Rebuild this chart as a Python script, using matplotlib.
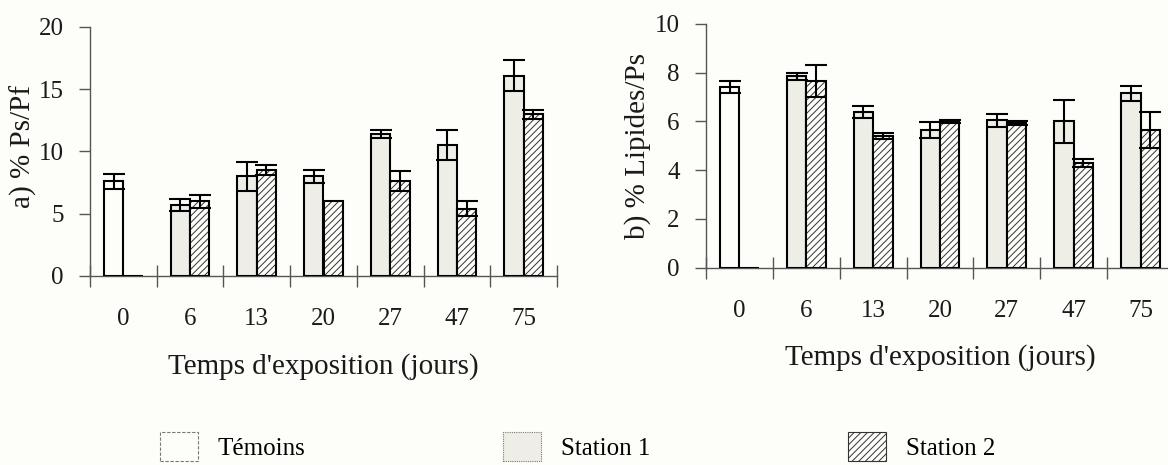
import numpy as np
import matplotlib
matplotlib.use("Agg")
import matplotlib.pyplot as plt
from matplotlib.patches import Patch

# data
days = ["0", "6", "13", "20", "27", "47", "75"]

# a) % Ps/Pf
temoins_a = 7.6
temoins_a_err = 0.6
station1_a = [5.7, 8.0, 8.0, 11.4, 10.5, 16.1]          # days 6..75
station1_a_err = [0.45, 1.15, 0.5, 0.35, 1.2, 1.25]
station2_a = [0.0, 6.0, 8.5, 6.05, 7.6, 5.4, 13.0]       # days 0..75
station2_a_err = [0.0, 0.5, 0.4, 0.0, 0.8, 0.6, 0.35]

# b) % Lipides/Ps
temoins_b = 7.4
temoins_b_err = 0.25
station1_b = [7.85, 6.4, 5.65, 6.05, 6.0, 7.15]
station1_b_err = [0.15, 0.25, 0.33, 0.27, 0.9, 0.3]
station2_b = [0.0, 7.65, 5.4, 6.0, 5.95, 4.3, 5.65]
station2_b_err = [0.0, 0.65, 0.12, 0.05, 0.08, 0.15, 0.75]

BG = "#fdfdf9"
S1_FILL = "#eeeee7"
FONT = "Liberation Serif"
TICK_FS = 18
LABEL_FS = 21

plt.rcParams["font.family"] = [FONT, "DejaVu Serif"]
plt.rcParams["hatch.linewidth"] = 0.7

fig = plt.figure(figsize=(11.68, 4.65), dpi=100, facecolor=BG)


def errbars(ax, x, y, e):
    x = np.asarray(x, float)
    y = np.asarray(y, float)
    e = np.asarray(e, float)
    m = e > 0
    ax.errorbar(x[m], y[m], yerr=e[m], fmt="none", ecolor="black",
                elinewidth=1.5, capsize=8, capthick=1.5, zorder=5)


def panel(rect, tem, tem_err, s1, s1_err, s2, s2_err, ymax, ystep, ylabel,
          ylab_xy, xlab_y):
    ax = fig.add_axes(rect, facecolor=BG)
    w = 0.29
    x = np.arange(len(days))
    # Témoins at day 0
    ax.bar(x[0] - w / 2, tem, w, facecolor=BG, edgecolor="black",
           linewidth=1.5, zorder=3)
    errbars(ax, [x[0] - w / 2], [tem], [tem_err])
    # Station 1, days 6..75
    ax.bar(x[1:] - w / 2, s1, w, facecolor=S1_FILL, edgecolor="black",
           linewidth=1.5, zorder=3)
    errbars(ax, x[1:] - w / 2, s1, s1_err)
    # Station 2 (hatched)
    ax.bar(x + w / 2, s2, w, facecolor=BG, edgecolor="#333333",
           hatch="/////", linewidth=0, zorder=3)
    ax.bar(x + w / 2, s2, w, fill=False, edgecolor="black",
           linewidth=1.5, zorder=4)
    errbars(ax, x + w / 2, s2, s2_err)

    ax.set_xlim(-0.5, len(days) - 0.5)
    ax.set_ylim(0, ymax)
    ax.set_yticks(np.arange(0, ymax + 0.1, ystep))
    ax.set_xticks(x)
    ax.set_xticklabels(days)
    ax.set_xticks(np.arange(-0.5, len(days)), minor=True)
    ax.tick_params(axis="x", which="major", length=0, pad=23,
                   labelsize=TICK_FS, colors="#1a1a1a")
    ax.tick_params(axis="x", which="minor", direction="inout", length=16,
                   width=1.0, color="#555555")
    ax.tick_params(axis="y", direction="out", length=8, width=1.0,
                   color="#555555", pad=11, labelsize=TICK_FS,
                   labelcolor="#1a1a1a")
    for s in ("top", "right"):
        ax.spines[s].set_visible(False)
    for s in ("left", "bottom"):
        ax.spines[s].set_color("#555555")
        ax.spines[s].set_linewidth(1.0)
    ax.set_ylabel(ylabel, fontsize=LABEL_FS, color="#1a1a1a")
    ax.yaxis.set_label_coords(*ylab_xy)
    ax.set_xlabel("Temps d'exposition (jours)", fontsize=LABEL_FS,
                  color="#1a1a1a")
    ax.xaxis.set_label_coords(0.5, xlab_y)
    return ax


panel([90 / 1168, 1 - 276 / 465, 467 / 1168, 249 / 465],
      temoins_a, temoins_a_err, station1_a, station1_a_err,
      station2_a, station2_a_err, 20, 5, "a) % Ps/Pf",
      (-0.113, 0.52), -0.31)

panel([706 / 1168, 1 - 267.7 / 465, 468 / 1168, 243.7 / 465],
      temoins_b, temoins_b_err, station1_b, station1_b_err,
      station2_b, station2_b_err, 10, 2, "b) % Lipides/Ps",
      (-0.118, 0.5), -0.315)

handles = [
    Patch(facecolor=BG, edgecolor="#777777", linewidth=0.8,
          linestyle=(0, (3, 1.5))),
    Patch(facecolor=S1_FILL, edgecolor="#777777", linewidth=0.8,
          linestyle=(0, (1, 1))),
    Patch(facecolor=BG, edgecolor="#333333", linewidth=0.8, hatch="/////"),
]
fig.legend(handles, ["Témoins", "Station 1", "Station 2"],
           loc="upper left", bbox_to_anchor=(160 / 1168, 1 - 432 / 465),
           ncol=3, frameon=False, fontsize=TICK_FS, handlelength=1.52,
           handleheight=1.4, handletextpad=0.8, columnspacing=7.9,
           borderpad=0, borderaxespad=0)

fig.savefig("out.png", dpi=100, facecolor=BG)
